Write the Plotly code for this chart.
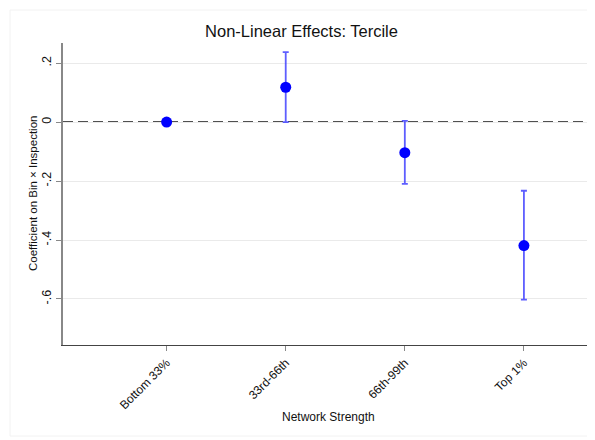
import plotly.graph_objects as go

categories = ["Bottom 33%", "33rd-66th", "66th-99th", "Top 1%"]
x_pos = [1, 2, 3, 4]
coef = [0.0, 0.118, -0.104, -0.419]
ci_low = [0.0, 0.0, -0.21, -0.602]
ci_high = [0.0, 0.237, 0.004, -0.233]
y_ticks = [0.2, 0.0, -0.2, -0.4, -0.6]
y_tick_labels = [".2", "0", "-.2", "-.4", "-.6"]

err_plus = [h - c for h, c in zip(ci_high, coef)]
err_minus = [c - l for c, l in zip(coef, ci_low)]

# page body has an 8px margin; figure is sized to fill the rest of the window
W, H = 587, 432
L, T, R, B = 55, 35, 2, 95
PW, PH = W - L - R, H - T - B

fig = go.Figure()
fig.add_trace(go.Scatter(
    x=x_pos, y=coef, mode="markers",
    marker=dict(color="#0000ff", size=11),
    error_y=dict(type="data", symmetric=False, array=err_plus, arrayminus=err_minus,
                 color="rgba(40,40,255,0.75)", thickness=1.8, width=3),
    showlegend=False,
))

fig.add_hline(y=0, line=dict(color="#505050", width=2, dash="10px,5px"), layer="below")

fig.update_layout(
    width=W, height=H,
    paper_bgcolor="white", plot_bgcolor="white",
    margin=dict(l=L, r=R, t=T, b=B, autoexpand=False),
    font=dict(family="Liberation Sans, Arial, sans-serif", color="#111111"),
    title=dict(text="Non-Linear Effects: Tercile", x=0.5, xanchor="center",
               y=1 - 23 / H, yanchor="middle", font=dict(size=16.5, color="#111111")),
    xaxis=dict(
        range=[0.13, 4.58], tickvals=x_pos, ticktext=categories, tickangle=-45,
        showgrid=False, zeroline=False, showline=True, linecolor="#444444", linewidth=1.2,
        ticks="outside", ticklen=5, tickcolor="#888888", tickwidth=1.2,
        tickfont=dict(size=12), automargin=False,
    ),
    yaxis=dict(
        range=[-0.756, 0.268], tickvals=y_ticks, ticktext=y_tick_labels, tickangle=-90,
        showgrid=True, gridcolor="#eaeaea", gridwidth=1, zeroline=False,
        showline=True, linecolor="#888888", linewidth=1.5,
        ticks="outside", ticklen=5, tickcolor="#888888", tickwidth=1.2,
        tickfont=dict(size=12.5), automargin=False,
    ),
    annotations=[
        dict(text="Network Strength", xref="paper", yref="paper", x=0.5,
             y=-(409 - (H - B)) / PH, xanchor="center", yanchor="middle",
             showarrow=False, font=dict(size=12)),
        dict(text="Coefficient on Bin × Inspection", xref="paper", yref="paper",
             x=(25 - L) / PW, y=0.5, xanchor="center", yanchor="middle",
             textangle=-90, showarrow=False, font=dict(size=11.5)),
    ],
)

fig.add_shape(type="rect", xref="paper", yref="paper",
              x0=(2 - L) / PW, x1=1 + 1 / PW, y0=-(B - 4) / PH,
              y1=1 + (T - 2) / PH,
              line=dict(color="#f2f2f2", width=1), layer="below")

fig.write_html("out.html")
